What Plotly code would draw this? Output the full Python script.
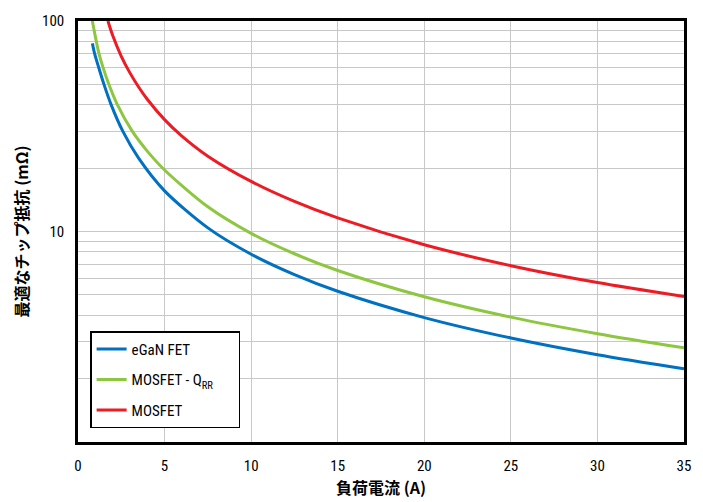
import plotly.graph_objects as go

# Load current (A) and optimal on-resistance (mOhm)
egan_i = [0.83, 0.96, 1.2, 1.5, 1.9, 2.6, 3.5, 5.0, 7.5, 10, 12.5, 15, 20, 25, 30, 35]
egan_r = [78.3, 70, 60, 50, 40.3, 29.8, 22.3, 15.6, 10.4, 7.8, 6.24, 5.2, 3.9, 3.12, 2.6, 2.23]

mosq_i = [0.83, 1.0, 1.2, 1.44, 1.77, 2.25, 3.15, 4.0, 5.0, 7.5, 10, 12.5, 15, 20, 25, 30, 35]
mosq_r = [100, 84.5, 70.5, 60.4, 50.3, 40.4, 29.8, 24.1, 19.6, 13.1, 9.8, 7.84, 6.53, 4.9, 3.92, 3.27, 2.8]

mos_i = [1.73, 2.0, 2.5, 3.0, 3.5, 4.0, 5.0, 6.0, 7.5, 10, 12.5, 15, 20, 25, 30, 35]
mos_r = [100, 85.5, 68, 56.7, 48.6, 42.5, 34, 28.4, 22.8, 17.3, 13.9, 11.6, 8.65, 6.88, 5.72, 4.91]

series_names = ["eGaN FET", "MOSFET - Q<sub>RR</sub>\u00a0\u00a0\u00a0\u00a0\u00a0\u00a0", "MOSFET"]
series_colors = ["#0070c0", "#8dc63f", "#ed1c24"]

x_ticks = [0, 5, 10, 15, 20, 25, 30, 35]
y_ticks = [10, 100]
y_labels = ["10", "100"]
y_minor = [2, 3, 4, 5, 6, 7, 8, 9, 20, 30, 40, 50, 60, 70, 80, 90]

x_title = "負荷電流 (A)"
y_title = "最適なチップ抵抗 (mΩ)"

narrow = "Liberation Sans Narrow, Roboto Condensed, Arial Narrow, Liberation Sans, sans-serif"
cjk = "Noto Sans CJK JP, sans-serif"

fig = go.Figure()
for i, (xs, ys) in enumerate([(egan_i, egan_r), (mosq_i, mosq_r), (mos_i, mos_r)]):
    fig.add_trace(go.Scatter(
        x=xs, y=ys, mode="lines", name=series_names[i],
        legendgroup=str(i),
        line=dict(color=series_colors[i], width=3, shape="spline", smoothing=0.8),
    ))

fig.update_layout(
    width=703, height=502,
    margin=dict(l=78, r=19, t=16, b=57),
    plot_bgcolor="white", paper_bgcolor="white",
    font=dict(family=narrow, size=15, color="black"),
    legend=dict(
        x=0.02, y=0.263, xanchor="left", yanchor="top",
        bgcolor="white", bordercolor="black", borderwidth=1.5,
        font=dict(family=narrow, size=15, color="black"),
        tracegroupgap=8,
    ),
    showlegend=True,
)
fig.update_xaxes(
    range=[0, 35], tickvals=x_ticks,
    showgrid=True, gridcolor="#c8c8c8", gridwidth=1,
    showline=True, linecolor="black", linewidth=2.5, mirror=True,
    ticks="outside", ticklen=8, tickcolor="rgba(0,0,0,0)",
    zeroline=False,
    title=dict(text="<b>" + x_title + "</b>", font=dict(family=cjk, size=16), standoff=4),
)
fig.update_yaxes(
    type="log", range=[0, 2], tickvals=y_ticks, ticktext=y_labels,
    showgrid=True, gridcolor="#c8c8c8", gridwidth=1,
    minor=dict(tickvals=y_minor, showgrid=True, gridcolor="#c8c8c8", gridwidth=1, ticks=""),
    showline=True, linecolor="black", linewidth=2.5, mirror=True,
    ticks="outside", ticklen=8, tickcolor="rgba(0,0,0,0)",
    zeroline=False,
    title=dict(text="<b>" + y_title + "</b>", font=dict(family=cjk, size=16), standoff=10),
)

fig.write_html("out.html", config={"displayModeBar": False},
               post_script="document.body.style.margin='0';")
